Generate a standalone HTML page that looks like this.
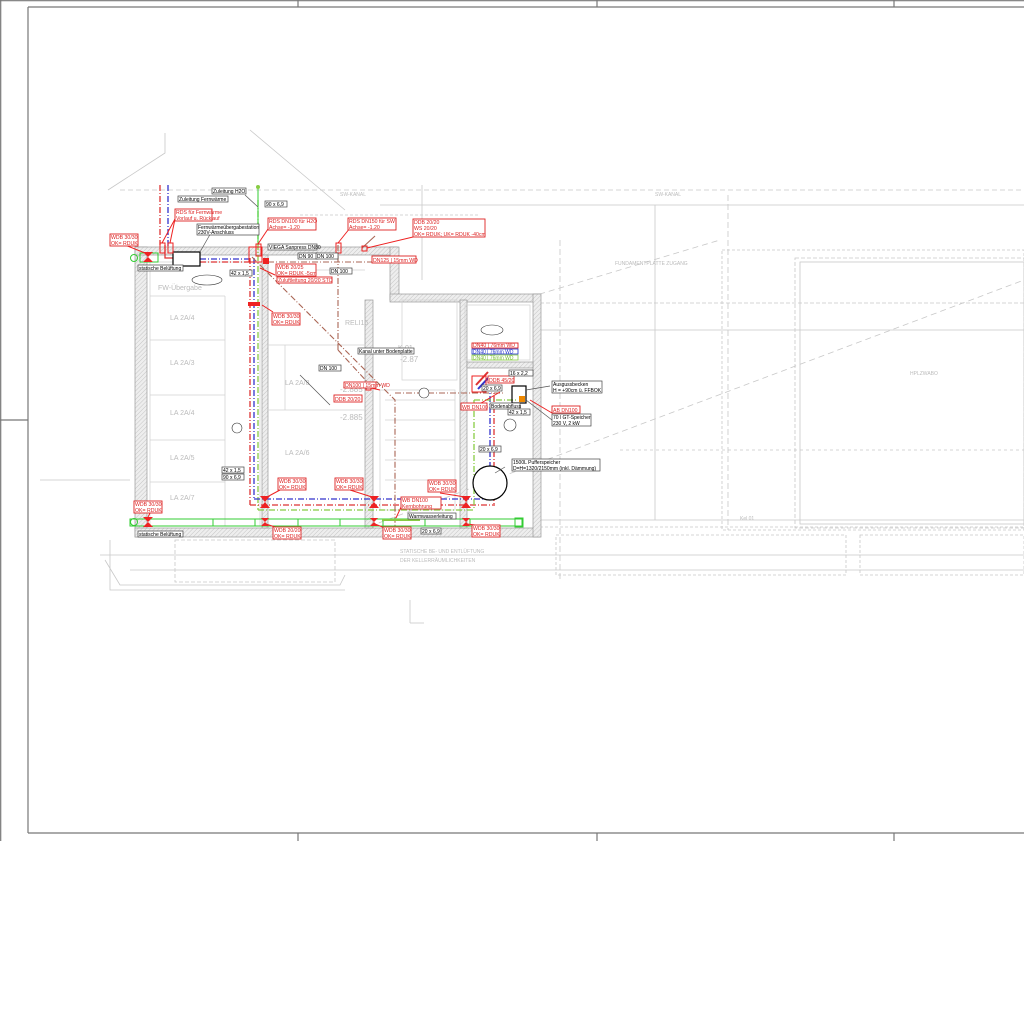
<!DOCTYPE html>
<html><head><meta charset="utf-8"><style>
html,body{margin:0;padding:0;background:#fff}
svg{display:block}
text{font-family:"Liberation Sans",sans-serif}
</style></head><body>
<svg width="1024" height="1024" viewBox="0 0 1024 1024" xmlns="http://www.w3.org/2000/svg">
<defs>
<pattern id="h" width="3" height="3" patternUnits="userSpaceOnUse" patternTransform="rotate(45)"><rect width="3" height="3" fill="#eee"/><line x1="0" y1="0" x2="0" y2="3" stroke="#bbb" stroke-width="0.8"/></pattern>
</defs>
<rect width="1024" height="1024" fill="#fff"/>
<g stroke="#777" stroke-width="1.2" fill="none">
<line x1="0" y1="0.7" x2="1024" y2="0.7"/>
<line x1="0.7" y1="0" x2="0.7" y2="841"/>
<line x1="28" y1="7" x2="1024" y2="7"/>
<line x1="28" y1="7" x2="28" y2="833"/>
<line x1="28" y1="833" x2="1024" y2="833"/>
<line x1="0" y1="420" x2="28" y2="420"/>
<line x1="298" y1="0" x2="298" y2="7"/><line x1="597" y1="0" x2="597" y2="7"/><line x1="894" y1="0" x2="894" y2="7"/>
<line x1="298" y1="833" x2="298" y2="841"/><line x1="597" y1="833" x2="597" y2="841"/><line x1="894" y1="833" x2="894" y2="841"/>
</g>
<g stroke="#c8c8c8" stroke-width="0.8" fill="none">
<polyline points="108,190 165,153 165,133"/>
<polyline points="250,130 345,210"/>
<line x1="120" y1="190" x2="1024" y2="190" stroke-dasharray="5,3"/>
<line x1="380" y1="205" x2="1024" y2="205"/>
<polyline points="655,205 655,520"/>
<line x1="560" y1="240" x2="560" y2="580" stroke-dasharray="6,3"/>
<line x1="728" y1="195" x2="728" y2="530" stroke-dasharray="6,3"/>
<line x1="540" y1="330" x2="1024" y2="330"/>
<line x1="540" y1="303" x2="1024" y2="303" stroke-dasharray="4,2"/>
<rect x="795" y="258" width="229" height="270" stroke-dasharray="4,2"/>
<rect x="800" y="262" width="224" height="262"/>
<rect x="722" y="250" width="302" height="280" stroke-dasharray="3,2"/>
<line x1="360" y1="530" x2="1024" y2="280" stroke-dasharray="6,4"/>
<line x1="520" y1="300" x2="720" y2="240" stroke-dasharray="6,4"/>
<line x1="540" y1="520" x2="1024" y2="520"/>
<line x1="540" y1="527" x2="1024" y2="527" stroke-dasharray="3,2"/>
<rect x="556" y="535" width="290" height="40" stroke-dasharray="3,2"/>
<rect x="860" y="535" width="164" height="40" stroke-dasharray="3,2"/>
<line x1="100" y1="555" x2="1024" y2="555"/>
<line x1="130" y1="570" x2="1024" y2="570"/>
<polyline points="110,540 110,590 345,590"/>
<polyline points="105,560 120,585 340,585 345,575"/>
<rect x="175" y="540" width="160" height="42" stroke-dasharray="4,2"/>
<line x1="410" y1="600" x2="410" y2="623"/><line x1="410" y1="623" x2="424" y2="623"/>
<line x1="422" y1="185" x2="422" y2="280"/>
<line x1="300" y1="215" x2="480" y2="215" stroke-dasharray="3,2"/>
<line x1="40" y1="480" x2="130" y2="480"/>
<line x1="620" y1="450" x2="1024" y2="450" stroke-dasharray="3,3"/>
</g>
<g fill="url(#h)" stroke="#999" stroke-width="0.7">
<rect x="135" y="247" width="12" height="290"/>
<rect x="135" y="528" width="405" height="9"/>
<rect x="135" y="247" width="262" height="8"/>
<rect x="390" y="247" width="9" height="53"/>
<rect x="390" y="294" width="150" height="8"/>
<rect x="533" y="294" width="8" height="243"/>
<rect x="262" y="255" width="6" height="273"/>
<rect x="365" y="300" width="8" height="228"/>
<rect x="460" y="300" width="7" height="228"/>
<rect x="467" y="362" width="66" height="6"/>
</g>
<g stroke="#d0d0d0" stroke-width="0.7" fill="none">
<rect x="150" y="262" width="110" height="264"/>
<line x1="150" y1="296" x2="225" y2="296"/><line x1="150" y1="340" x2="225" y2="340"/>
<line x1="150" y1="395" x2="225" y2="395"/><line x1="150" y1="440" x2="225" y2="440"/>
<line x1="150" y1="482" x2="225" y2="482"/><line x1="225" y1="296" x2="225" y2="526"/>
<line x1="268" y1="345" x2="365" y2="345"/><line x1="268" y1="410" x2="365" y2="410"/>
<line x1="285" y1="345" x2="285" y2="410"/>
<rect x="380" y="390" width="75" height="120"/>
<rect x="465" y="305" width="65" height="55"/>
<rect x="402" y="300" width="55" height="80"/>
<line x1="300" y1="270" x2="365" y2="270"/>
<line x1="385" y1="400" x2="455" y2="400"/><line x1="385" y1="420" x2="455" y2="420"/>
<line x1="385" y1="440" x2="455" y2="440"/><line x1="385" y1="460" x2="455" y2="460"/>
<line x1="385" y1="480" x2="455" y2="480"/>
</g>
<g fill="#bbb" font-size="7">
<text x="158" y="290">FW-Übergabe</text><text x="170" y="320">LA 2A/4</text><text x="170" y="365">LA 2A/3</text>
<text x="170" y="415">LA 2A/4</text><text x="170" y="460">LA 2A/5</text><text x="170" y="500">LA 2A/7</text>
<text x="285" y="385">LA 2A/8</text><text x="285" y="455">LA 2A/6</text>
<text x="345" y="325">RELI16</text><text x="398" y="350">K-01</text>
<text x="340" y="392" font-size="8">-2.885</text><text x="340" y="420" font-size="8">-2.885</text>
<text x="400" y="362" font-size="8">-2.87</text>
</g>
<g fill="#bbb" font-size="5">
<text x="340" y="196">SW-KANAL</text><text x="655" y="196">SW-KANAL</text>
<text x="615" y="265">FUNDAMENTPLATTE ZUGANG</text><text x="910" y="375">HPLZWABO</text>
<text x="400" y="553">STATISCHE BE- UND ENTLÜFTUNG</text><text x="400" y="562">DER KELLERRÄUMLICHKEITEN</text>
<text x="740" y="520">Kel 01</text>
</g>
<g fill="none" stroke-width="1.3">
<line x1="160" y1="185" x2="160" y2="245" stroke="#d33" stroke-dasharray="6,2,1,2"/>
<line x1="168" y1="185" x2="168" y2="248" stroke="#33c" stroke-dasharray="6,2,1,2"/>
<polyline points="173,258 165,258 165,245" stroke="#d33"/>
<line x1="200" y1="259" x2="250" y2="259" stroke="#33c" stroke-dasharray="6,2,1,2"/>
<line x1="200" y1="262" x2="250" y2="262" stroke="#d33" stroke-dasharray="6,2,1,2"/>
<line x1="250" y1="258" x2="250" y2="505" stroke="#d33" stroke-dasharray="6,2,1,2"/>
<line x1="254" y1="258" x2="254" y2="500" stroke="#33c" stroke-dasharray="6,2,1,2"/>
<line x1="258" y1="200" x2="258" y2="510" stroke="#8c4" stroke-dasharray="6,2,1,2"/>
<line x1="250" y1="505" x2="495" y2="505" stroke="#d33" stroke-dasharray="6,2,1,2"/>
<line x1="254" y1="499" x2="490" y2="499" stroke="#33c" stroke-dasharray="6,2,1,2"/>
<line x1="258" y1="510" x2="475" y2="510" stroke="#8c4" stroke-dasharray="6,2,1,2"/>
<line x1="490" y1="385" x2="490" y2="499" stroke="#33c" stroke-dasharray="6,2,1,2"/>
<line x1="494" y1="385" x2="494" y2="505" stroke="#d33" stroke-dasharray="6,2,1,2"/>
<line x1="474" y1="400" x2="474" y2="510" stroke="#8c4" stroke-dasharray="6,2,1,2"/>
<line x1="474" y1="400" x2="518" y2="400" stroke="#8c4" stroke-dasharray="6,2,1,2"/>
<line x1="476" y1="385" x2="488" y2="372" stroke="#d33" stroke-width="2"/>
<line x1="478" y1="389" x2="490" y2="376" stroke="#33c" stroke-width="2"/>
</g>
<g fill="none" stroke="#a65" stroke-width="1.1" stroke-dasharray="6,2,1,2">
<polyline points="252,257 395,400 395,530"/>
<line x1="338" y1="245" x2="338" y2="350"/>
<polyline points="338,350 370,385"/>
<line x1="268" y1="262" x2="400" y2="262"/>
<line x1="395" y1="393" x2="505" y2="393"/>
<line x1="362" y1="248" x2="375" y2="236" stroke-dasharray="none"/>
</g>
<g fill="none" stroke="#3c3" stroke-width="1">
<rect x="130" y="519" width="392" height="7"/>
<rect x="515" y="518" width="8" height="9"/>
<line x1="213" y1="519" x2="213" y2="526"/><line x1="255" y1="519" x2="255" y2="526"/>
<line x1="298" y1="519" x2="298" y2="526"/><line x1="340" y1="519" x2="340" y2="526"/>
<line x1="383" y1="519" x2="383" y2="526"/><line x1="425" y1="519" x2="425" y2="526"/>
<line x1="470" y1="519" x2="470" y2="526"/>
<circle cx="134" cy="522" r="3.5"/>
<rect x="140" y="253" width="18" height="9"/><circle cx="134" cy="258" r="3.5"/>
<line x1="382" y1="520" x2="420" y2="520" stroke="#8c4" stroke-width="2"/>
<line x1="258" y1="187" x2="258" y2="245"/>
</g>
<circle cx="258" cy="187" r="2" fill="#8c4"/>
<rect x="173" y="252" width="27" height="14" fill="#fff" stroke="#000" stroke-width="1.2"/>
<circle cx="490" cy="483" r="17" fill="#fff" stroke="#000" stroke-width="1.2"/>
<rect x="512" y="386" width="14" height="17" fill="none" stroke="#000" stroke-width="1.2"/>
<rect x="519" y="396" width="6" height="6" fill="#e80"/>
<g fill="#e22">
<g transform="translate(148,257)"><polygon points="-5,-5 5,-5 0,0"/><polygon points="-5,5 5,5 0,0"/></g>
<g transform="translate(148,522)"><polygon points="-5,-5 5,-5 0,0"/><polygon points="-5,5 5,5 0,0"/></g>
<g transform="translate(265,502)"><polygon points="-5,-6 5,-6 0,0"/><polygon points="-5,6 5,6 0,0"/></g>
<g transform="translate(265,522)"><polygon points="-4,-4 4,-4 0,0"/><polygon points="-4,4 4,4 0,0"/></g>
<g transform="translate(374,502)"><polygon points="-5,-6 5,-6 0,0"/><polygon points="-5,6 5,6 0,0"/></g>
<g transform="translate(374,522)"><polygon points="-4,-4 4,-4 0,0"/><polygon points="-4,4 4,4 0,0"/></g>
<g transform="translate(466,502)"><polygon points="-5,-6 5,-6 0,0"/><polygon points="-5,6 5,6 0,0"/></g>
<g transform="translate(466,522)"><polygon points="-4,-4 4,-4 0,0"/><polygon points="-4,4 4,4 0,0"/></g>
<rect x="248" y="302" width="12" height="4"/>
<rect x="263" y="258" width="6" height="6"/>
</g>
<g fill="none" stroke="#e22" stroke-width="1">
<rect x="160" y="243" width="5" height="10"/><rect x="168" y="243" width="5" height="10"/>
<rect x="256" y="244" width="5" height="12"/><rect x="336" y="243" width="5" height="10"/>
<rect x="362" y="246" width="5" height="5"/><rect x="366" y="385" width="5" height="5"/>
<polygon points="249,247 262,247 262,262 249,262"/>
<rect x="472" y="376" width="14" height="16"/>
</g>
<g stroke="#e22" stroke-width="1" fill="none">
<line x1="125" y1="245" x2="145" y2="253"/><line x1="175" y1="219" x2="162" y2="243"/><line x1="175" y1="219" x2="170" y2="243"/>
<line x1="268" y1="229" x2="258" y2="244"/><line x1="350" y1="228" x2="338" y2="243"/>
<line x1="413" y1="237" x2="367" y2="248"/><line x1="260" y1="268" x2="275" y2="275"/>
<line x1="262" y1="305" x2="273" y2="312"/><line x1="380" y1="390" x2="371" y2="388"/>
<line x1="280" y1="490" x2="267" y2="497"/><line x1="350" y1="490" x2="372" y2="497"/>
<line x1="440" y1="493" x2="465" y2="497"/><line x1="153" y1="507" x2="148" y2="517"/>
<line x1="278" y1="528" x2="266" y2="524"/><line x1="385" y1="528" x2="375" y2="524"/>
<line x1="475" y1="525" x2="467" y2="524"/><line x1="530" y1="400" x2="552" y2="413"/>
<line x1="402" y1="505" x2="396" y2="518"/><line x1="476" y1="406" x2="500" y2="392"/>
</g>
<g stroke="#555" stroke-width="0.7" fill="none">
<line x1="212" y1="231" x2="200" y2="252"/><line x1="245" y1="195" x2="258" y2="207"/>
<line x1="330" y1="405" x2="300" y2="375"/><line x1="505" y1="467" x2="495" y2="473"/>
<line x1="550" y1="386" x2="526" y2="390"/><line x1="552" y1="420" x2="526" y2="400"/>
</g>
<g font-size="5.2" fill="#d22">
<g fill="#fff" stroke="#d22" stroke-width="0.9">
<rect x="110" y="234" width="28" height="12"/><rect x="175" y="209" width="37" height="12"/>
<rect x="268" y="218" width="48" height="12"/><rect x="348" y="218" width="48" height="12"/>
<rect x="413" y="219" width="72" height="18"/><rect x="276" y="264" width="40" height="12"/>
<rect x="277" y="277" width="55" height="6"/><rect x="272" y="313" width="28" height="12"/>
<rect x="372" y="256" width="44" height="7"/><rect x="344" y="382" width="32" height="6"/>
<rect x="334" y="395" width="28" height="7"/><rect x="278" y="478" width="28" height="12"/>
<rect x="335" y="478" width="28" height="12"/><rect x="428" y="480" width="28" height="12"/>
<rect x="401" y="497" width="40" height="12"/><rect x="134" y="501" width="28" height="12"/>
<rect x="273" y="527" width="28" height="12"/><rect x="383" y="527" width="28" height="12"/>
<rect x="472" y="525" width="28" height="12"/><rect x="488" y="376" width="26" height="7"/>
<rect x="461" y="403" width="26" height="7"/><rect x="552" y="406" width="28" height="7"/>
<rect x="472" y="343" width="46" height="5"/>
</g>
<text x="111" y="239">WDB 30/30</text><text x="111" y="245">OK= RDUK</text>
<text x="176" y="214">RDS für Fernwärme</text><text x="176" y="220">Vorlauf u. Rücklauf</text>
<text x="269" y="223">RDS DN100 für H2O</text><text x="269" y="229">Achse= -1.20</text>
<text x="349" y="223">RDS DN150 für SW</text><text x="349" y="229">Achse= -1.20</text>
<text x="414" y="224">DDB 20/20</text><text x="414" y="230">WS 20/20</text><text x="414" y="236">OK= RDUK; UK= RDUK -40cm</text>
<text x="277" y="269">WDB 20/25</text><text x="277" y="275">OK= RDUK -5cm</text>
<text x="278" y="282">Zuluftleitung 20/20 STO</text>
<text x="273" y="318">WDB 30/30</text><text x="273" y="324">OK= RDUK</text>
<text x="373" y="262">DN125 | 15mm WD</text><text x="345" y="387">DN100 | 15mm WD</text>
<text x="335" y="401">DDB 20/20</text>
<text x="279" y="483">WDB 30/30</text><text x="279" y="489">OK= RDUK</text>
<text x="336" y="483">WDB 30/30</text><text x="336" y="489">OK= RDUK</text>
<text x="429" y="485">WDB 30/30</text><text x="429" y="491">OK= RDUK</text>
<text x="402" y="502">WB DN100</text><text x="402" y="508">Kernbohrung</text>
<text x="135" y="506">WDB 30/30</text><text x="135" y="512">OK= RDUK</text>
<text x="274" y="532">WDB 20/20</text><text x="274" y="538">OK= RDUK</text>
<text x="384" y="532">WDB 30/30</text><text x="384" y="538">OK= RDUK</text>
<text x="473" y="530">WDB 30/30</text><text x="473" y="536">OK= RDUK</text>
<text x="489" y="382">DDB 45/20</text><text x="462" y="409">WB DN100</text>
<text x="553" y="412">AB DN100</text>
<text x="473" y="347">DN40 | 76mm WD</text>
</g>
<g font-size="5" fill="#23c"><rect x="472" y="349" width="46" height="5" fill="#fff" stroke="#23c" stroke-width="0.8"/><text x="473" y="353.5">DN40 | 76mm WD</text></g>
<g font-size="5" fill="#7b3"><rect x="472" y="355" width="46" height="5" fill="#fff" stroke="#8c4" stroke-width="0.8"/><text x="473" y="359.5">DN40 | 76mm WD</text></g>
<g font-size="5" fill="#000">
<g fill="#fff" stroke="#444" stroke-width="0.7">
<rect x="212" y="188" width="34" height="6"/><rect x="178" y="196" width="50" height="6"/>
<rect x="265" y="201" width="22" height="6"/><rect x="197" y="224" width="62" height="11"/>
<rect x="268" y="244" width="49" height="6"/><rect x="298" y="253" width="20" height="6"/>
<rect x="316" y="253" width="22" height="6"/><rect x="330" y="268" width="22" height="6"/>
<rect x="138" y="265" width="45" height="6"/><rect x="230" y="270" width="22" height="6"/>
<rect x="358" y="348" width="56" height="6"/><rect x="319" y="365" width="22" height="6"/>
<rect x="222" y="467" width="22" height="6"/><rect x="222" y="474" width="22" height="6"/>
<rect x="408" y="513" width="48" height="6"/><rect x="421" y="528" width="20" height="6"/>
<rect x="138" y="531" width="45" height="6"/><rect x="509" y="370" width="24" height="6"/>
<rect x="482" y="385" width="20" height="6"/><rect x="490" y="403" width="30" height="6"/>
<rect x="508" y="409" width="22" height="6"/><rect x="479" y="446" width="22" height="6"/>
<rect x="552" y="381" width="50" height="12"/><rect x="552" y="414" width="39" height="12"/>
<rect x="512" y="459" width="88" height="12"/>
</g>
<text x="213" y="193">Zuleitung H2O</text><text x="179" y="201">Zuleitung Fernwärme</text>
<text x="266" y="206">90 x 6,9</text>
<text x="198" y="229">Fernwärmeübergabestation</text><text x="198" y="234">230V-Anschluss</text>
<text x="269" y="249">VIEGA Sanpress DN80</text><text x="299" y="258">DN 90</text><text x="317" y="258">DN 100</text>
<text x="331" y="273">DN 100</text><text x="139" y="270">statische Belüftung</text><text x="231" y="275">42 x 1,5</text>
<text x="359" y="353">Kanal unter Bodenplatte</text><text x="320" y="370">DN 100</text>
<text x="223" y="472">42 x 1,5</text><text x="223" y="479">90 x 6,9</text>
<text x="409" y="518">Warmwasserleitung</text><text x="422" y="533">20 x 6,9</text>
<text x="139" y="536">statische Belüftung</text><text x="510" y="375">16 x 2,2</text>
<text x="483" y="390">20 x 6,9</text><text x="491" y="408">Bodenabfluss</text><text x="509" y="414">42 x 1,5</text>
<text x="480" y="451">20 x 6,9</text>
<text x="553" y="386">Ausgussbecken</text><text x="553" y="392">H = +90cm ü. FFBOK</text>
<text x="553" y="419">70 l GT-Speicher</text><text x="553" y="425">230 V, 2 kW</text>
<text x="513" y="464">1500L Pufferspeicher</text><text x="513" y="470">D=H=1320/2150mm (inkl. Dämmung)</text>
</g>
<g fill="#fff" stroke="#333" stroke-width="0.6"><ellipse cx="207" cy="280" rx="15" ry="5"/><ellipse cx="492" cy="330" rx="11" ry="5"/><circle cx="237" cy="428" r="5"/><circle cx="510" cy="425" r="6"/><circle cx="424" cy="393" r="5"/></g>
</svg>
</body></html>
